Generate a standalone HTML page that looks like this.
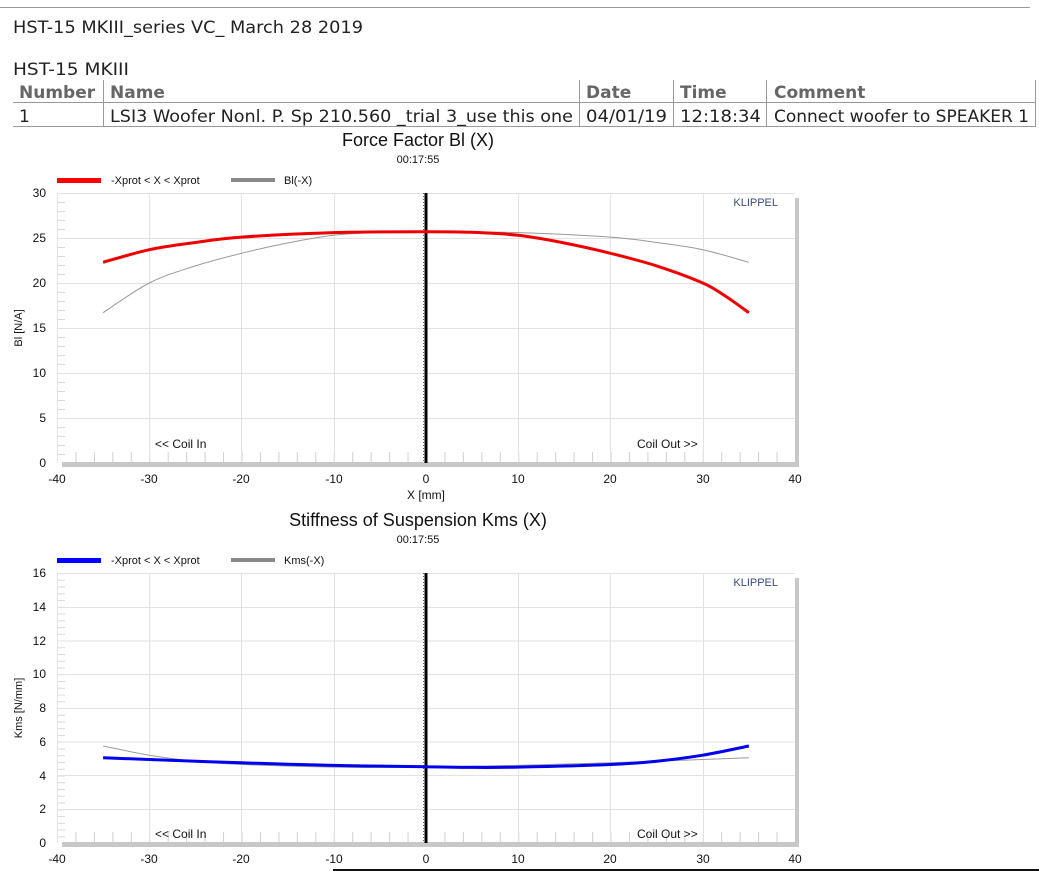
<!DOCTYPE html>
<html><head><meta charset="utf-8"><style>
body{margin:0;background:#fff;width:1039px;height:871px;overflow:hidden;position:relative;font-family:"DejaVu Sans",Verdana,sans-serif;}
</style></head><body>
<svg width="1039" height="871" viewBox="0 0 1039 871" xmlns="http://www.w3.org/2000/svg" style="position:absolute;left:0;top:0">
<defs>
<pattern id="ty1" x="57" y="193" width="10" height="9" patternUnits="userSpaceOnUse"><line x1="0" y1="0.5" x2="8" y2="0.5" stroke="#d8d8d8" stroke-width="1"/></pattern>
<pattern id="ty2" x="57" y="573" width="10" height="6.75" patternUnits="userSpaceOnUse"><line x1="0" y1="0.5" x2="8" y2="0.5" stroke="#d8d8d8" stroke-width="1"/></pattern>
<pattern id="tx" x="57" y="0" width="18.45" height="10" patternUnits="userSpaceOnUse"><line x1="0.5" y1="0" x2="0.5" y2="10" stroke="#d0d0d0" stroke-width="1"/></pattern>
</defs>
<!-- header -->
<line x1="0" y1="7.5" x2="1030" y2="7.5" stroke="#999"/>
<g font-family="DejaVu Sans, Verdana, sans-serif" font-size="17" fill="#222">
<text x="13" y="33" textLength="350" lengthAdjust="spacingAndGlyphs">HST-15 MKIII_series VC_ March 28 2019</text>
<text x="13" y="75" textLength="116" lengthAdjust="spacingAndGlyphs">HST-15 MKIII</text>
<g font-weight="bold" fill="#666"><text x="19" y="98">Number</text><text x="110" y="98">Name</text><text x="586" y="98">Date</text><text x="680" y="98">Time</text><text x="774" y="98">Comment</text></g>
<text x="19" y="122">1</text><text x="110" y="122" textLength="463" lengthAdjust="spacingAndGlyphs">LSI3 Woofer Nonl. P. Sp 210.560 _trial 3_use this one</text>
<text x="586" y="122" textLength="81" lengthAdjust="spacingAndGlyphs">04/01/19</text><text x="680" y="122" textLength="81" lengthAdjust="spacingAndGlyphs">12:18:34</text><text x="774" y="122" textLength="255" lengthAdjust="spacingAndGlyphs">Connect woofer to SPEAKER 1</text>
</g>
<g stroke="#999" stroke-width="1">
<line x1="13" y1="102.5" x2="1036" y2="102.5"/><line x1="13" y1="126.5" x2="1036" y2="126.5"/>
<line x1="103.5" y1="80" x2="103.5" y2="126"/><line x1="579.5" y1="80" x2="579.5" y2="126"/><line x1="673.5" y1="80" x2="673.5" y2="126"/><line x1="766.5" y1="80" x2="766.5" y2="126"/><line x1="1035.5" y1="80" x2="1035.5" y2="126"/>
</g>

<!-- CHART 1 -->
<g font-family="Liberation Sans, Arial, sans-serif" fill="#111">
<text x="418" y="146" font-size="18" text-anchor="middle">Force Factor Bl (X)</text>
<text x="418" y="163" font-size="11" text-anchor="middle">00:17:55</text>
<rect x="57" y="178" width="44" height="5" fill="#f00"/><text x="111" y="184" font-size="11">-Xprot &lt; X &lt; Xprot</text>
<rect x="231" y="178" width="44" height="4" fill="#888"/><text x="284" y="184" font-size="11">Bl(-X)</text>
</g>
<rect x="57" y="193" width="8" height="270" fill="url(#ty1)"/>
<rect x="57" y="452" width="738" height="10" fill="url(#tx)"/>
<g stroke="#e2e2e2" stroke-width="1">
<line x1="57.5" y1="193" x2="57.5" y2="463"/><line x1="149.5" y1="193" x2="149.5" y2="463"/><line x1="241.5" y1="193" x2="241.5" y2="463"/><line x1="334.5" y1="193" x2="334.5" y2="463"/><line x1="518.5" y1="193" x2="518.5" y2="463"/><line x1="610.5" y1="193" x2="610.5" y2="463"/><line x1="703.5" y1="193" x2="703.5" y2="463"/>
<line x1="57" y1="193.5" x2="795" y2="193.5"/><line x1="57" y1="238.5" x2="795" y2="238.5"/><line x1="57" y1="283.5" x2="795" y2="283.5"/><line x1="57" y1="328.5" x2="795" y2="328.5"/><line x1="57" y1="373.5" x2="795" y2="373.5"/><line x1="57" y1="418.5" x2="795" y2="418.5"/>
</g>
<rect x="795" y="198" width="4" height="269" fill="#c8c8c8"/>
<rect x="62" y="462" width="737" height="5" fill="#c8c8c8"/>
<line x1="423.5" y1="193" x2="423.5" y2="463" stroke="#666" stroke-dasharray="1,2"/>
<line x1="426" y1="193" x2="426" y2="463" stroke="#000" stroke-width="3"/>
<polyline class="sm" fill="none" stroke="#999" stroke-width="1" points="103.1,312.7 149.3,283 195.4,265.9 241.5,253.3 287.6,243 333.75,235.3 380,232.3 426,231.7 518.25,232.6 610.5,237.1 656.6,242.5 702.75,249.7 748.9,262.3"/>
<polyline class="sm" fill="none" stroke="#e00" stroke-width="3" stroke-linejoin="round" points="103.1,262.3 149.3,249.7 195.4,242.5 241.5,237.1 333.75,232.6 426,231.7 472,232.3 518.25,235.3 564.4,243 610.5,253.3 656.6,265.9 702.75,283 726,296.5 748.9,312.7"/>
<g font-family="Liberation Sans, Arial, sans-serif" font-size="12" fill="#111">
<text x="778" y="206" font-size="11" fill="#3a4a80" text-anchor="end">KLIPPEL</text>
<text x="155" y="448">&lt;&lt; Coil In</text><text x="637" y="448">Coil Out &gt;&gt;</text>
<g text-anchor="end"><text x="46" y="197">30</text><text x="46" y="242">25</text><text x="46" y="287">20</text><text x="46" y="332">15</text><text x="46" y="377">10</text><text x="46" y="422">5</text><text x="46" y="467">0</text></g>
<g text-anchor="middle"><text x="57" y="483">-40</text><text x="149" y="483">-30</text><text x="241" y="483">-20</text><text x="334" y="483">-10</text><text x="426" y="483">0</text><text x="518" y="483">10</text><text x="610" y="483">20</text><text x="703" y="483">30</text><text x="795" y="483">40</text></g>
<text x="426" y="499" text-anchor="middle">X [mm]</text>
<text transform="translate(22,328) rotate(-90)" text-anchor="middle" font-size="11">Bl [N/A]</text>
</g>

<!-- CHART 2 -->
<g font-family="Liberation Sans, Arial, sans-serif" fill="#111">
<text x="418" y="526" font-size="18" text-anchor="middle">Stiffness of Suspension Kms (X)</text>
<text x="418" y="543" font-size="11" text-anchor="middle">00:17:55</text>
<rect x="57" y="558" width="44" height="5" fill="#00f"/><text x="111" y="564" font-size="11">-Xprot &lt; X &lt; Xprot</text>
<rect x="231" y="558" width="44" height="4" fill="#888"/><text x="284" y="564" font-size="11">Kms(-X)</text>
</g>
<rect x="57" y="573" width="8" height="270" fill="url(#ty2)"/>
<rect x="57" y="832" width="738" height="10" fill="url(#tx)"/>
<g stroke="#e2e2e2" stroke-width="1">
<line x1="57.5" y1="573" x2="57.5" y2="843"/><line x1="149.5" y1="573" x2="149.5" y2="843"/><line x1="241.5" y1="573" x2="241.5" y2="843"/><line x1="334.5" y1="573" x2="334.5" y2="843"/><line x1="518.5" y1="573" x2="518.5" y2="843"/><line x1="610.5" y1="573" x2="610.5" y2="843"/><line x1="703.5" y1="573" x2="703.5" y2="843"/>
<line x1="57" y1="573.5" x2="795" y2="573.5"/><line x1="57" y1="607.5" x2="795" y2="607.5"/><line x1="57" y1="641" x2="795" y2="641"/><line x1="57" y1="674.5" x2="795" y2="674.5"/><line x1="57" y1="708.5" x2="795" y2="708.5"/><line x1="57" y1="742" x2="795" y2="742"/><line x1="57" y1="775.5" x2="795" y2="775.5"/><line x1="57" y1="809.5" x2="795" y2="809.5"/>
</g>
<rect x="795" y="578" width="4" height="269" fill="#c8c8c8"/>
<rect x="62" y="842" width="737" height="5" fill="#c8c8c8"/>
<line x1="423.5" y1="573" x2="423.5" y2="843" stroke="#666" stroke-dasharray="1,2"/>
<line x1="426" y1="573" x2="426" y2="843" stroke="#000" stroke-width="3"/>
<polyline class="sm" fill="none" stroke="#999" stroke-width="1" points="103.1,746 149.3,755.2 195.4,761.2 241.5,764.5 333.75,767.1 379.9,767.4 426,766.7 518.25,765.4 610.5,762.8 702.75,759.5 748.9,757.8"/>
<polyline class="sm" fill="none" stroke="#00e" stroke-width="3" stroke-linejoin="round" points="103.1,757.8 149.3,759.5 241.5,762.8 333.75,765.4 426,766.7 472.1,767.4 518.25,767.1 610.5,764.5 656.6,761.2 702.75,755.2 748.9,746"/>
<g font-family="Liberation Sans, Arial, sans-serif" font-size="12" fill="#111">
<text x="778" y="586" font-size="11" fill="#3a4a80" text-anchor="end">KLIPPEL</text>
<text x="155" y="838">&lt;&lt; Coil In</text><text x="637" y="838">Coil Out &gt;&gt;</text>
<g text-anchor="end"><text x="46" y="577">16</text><text x="46" y="611">14</text><text x="46" y="645">12</text><text x="46" y="678">10</text><text x="46" y="712">8</text><text x="46" y="746">6</text><text x="46" y="780">4</text><text x="46" y="813">2</text><text x="46" y="847">0</text></g>
<g text-anchor="middle"><text x="57" y="863">-40</text><text x="149" y="863">-30</text><text x="241" y="863">-20</text><text x="334" y="863">-10</text><text x="426" y="863">0</text><text x="518" y="863">10</text><text x="610" y="863">20</text><text x="703" y="863">30</text><text x="795" y="863">40</text></g>
<text transform="translate(22,708) rotate(-90)" text-anchor="middle" font-size="11">Kms [N/mm]</text>
</g>
<rect x="333" y="869" width="706" height="2" fill="#111"/>
</svg>
<script>
(function(){
var ns="http://www.w3.org/2000/svg";
document.querySelectorAll("polyline.sm").forEach(function(pl){
  var p=pl.getAttribute("points").trim().split(/\s+/).map(function(s){return s.split(",").map(Number);});
  var d="M"+p[0][0]+","+p[0][1];
  for(var i=0;i<p.length-1;i++){
    var p0=p[i-1]||p[i],p1=p[i],p2=p[i+1],p3=p[i+2]||p2;
    var c1x=p1[0]+(p2[0]-p0[0])/6,c1y=p1[1]+(p2[1]-p0[1])/6;
    var c2x=p2[0]-(p3[0]-p1[0])/6,c2y=p2[1]-(p3[1]-p1[1])/6;
    d+=" C"+c1x.toFixed(2)+","+c1y.toFixed(2)+" "+c2x.toFixed(2)+","+c2y.toFixed(2)+" "+p2[0]+","+p2[1];
  }
  var path=document.createElementNS(ns,"path");
  ["fill","stroke","stroke-width","stroke-linejoin"].forEach(function(a){if(pl.getAttribute(a))path.setAttribute(a,pl.getAttribute(a));});
  path.setAttribute("d",d);path.setAttribute("stroke-linecap","butt");
  pl.parentNode.replaceChild(path,pl);
});
})();
</script>
</body></html>
